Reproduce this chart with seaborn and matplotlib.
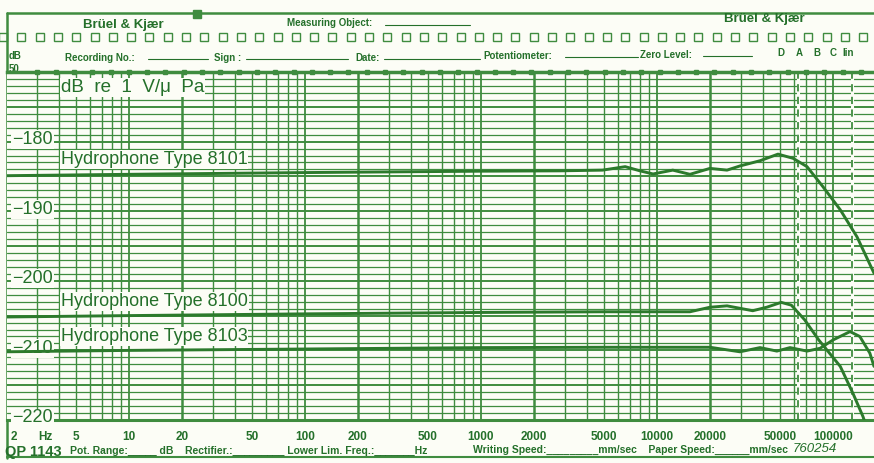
import numpy as np
import pandas as pd
import seaborn as sns
import matplotlib.pyplot as plt
from matplotlib.transforms import blended_transform_factory

# values: frequency (Hz) and sensitivity (dB re 1 V/uPa)
freq_8101 = [2, 10, 100, 1000, 2800, 4900, 6600, 8000, 9500, 12300, 15400, 20000,
             25000, 29600, 38500, 48700, 59300, 71200, 87800, 110000, 137000, 171000]
level_8101 = [-184.9, -184.7, -184.45, -184.25, -184.2, -184.1, -183.6, -184.2, -184.65, -184.1, -184.7, -183.85,
              -184.1, -183.5, -182.75, -181.8, -182.4, -183.6, -186.5, -189.8, -193.7, -198.9]

freq_8100 = [2, 10, 100, 1000, 5000, 15400, 20000, 25000, 35000, 42000, 50800, 58000,
             69000, 83000, 110000, 130000, 148000, 160000]
level_8100 = [-205.2, -205.0, -204.75, -204.55, -204.45, -204.45, -203.8, -203.6, -204.3, -203.8, -203.1, -203.5,
              -205.6, -208.5, -212.3, -216.2, -219.5, -222.0]

freq_8103 = [2, 10, 100, 1000, 5000, 20000, 29600, 38500, 48000, 57000, 71200, 84400,
             100000, 125000, 142000, 162000, 171000]
level_8103 = [-210.2, -210.0, -209.8, -209.6, -209.55, -209.55, -210.2, -209.6, -210.1, -209.6, -210.1, -209.7,
              -208.5, -207.3, -208.0, -210.4, -212.3]

curve_names = ['8101', '8100', '8103']
tick_freqs = [5, 10, 20, 50, 100, 200, 500, 1000, 2000, 5000, 10000, 20000, 50000, 100000]
y_ticks = [-180, -190, -200, -210, -220]

df = pd.concat([
    pd.DataFrame({'freq': freq_8101, 'level': level_8101, 'type': '8101'}),
    pd.DataFrame({'freq': freq_8100, 'level': level_8100, 'type': '8100'}),
    pd.DataFrame({'freq': freq_8103, 'level': level_8103, 'type': '8103'}),
])

bg = '#fcfdf6'
grid = '#3f8c3f'
ink = '#24702a'
curve = '#2c7a2c'

sns.set_style('white')
plt.rcParams['font.family'] = ['Liberation Sans', 'DejaVu Sans']

W, H = 874, 463
fig = plt.figure(figsize=(W / 100, H / 100), dpi=100, facecolor=bg)

# paper overlay in pixel coordinates for the printed form
paper = fig.add_axes([0, 0, 1, 1], zorder=0)
paper.set_xlim(0, W)
paper.set_ylim(H, 0)
paper.axis('off')

ax = fig.add_axes([7 / W, (H - 420) / H, (W - 7) / W, 348 / H], zorder=1)
ax.set_facecolor(bg)
ax.set_xscale('log')
ax.set_xlim(2.03, 171000)
ax.set_ylim(-220, -170)

# chart grid
for dec in [1, 10, 100, 1000, 10000, 100000]:
    for m in range(1, 10):
        f = m * dec
        if 2 < f < 171000:
            lw = 1.8 if m == 2 else (1.3 if m == 1 else 1.0)
            ax.axvline(f, color=grid, lw=lw, zorder=1)
for db in range(-219, -170):
    lw = 1.4 if db % 5 == 0 else 0.9
    ax.axhline(db, color=grid, lw=lw, zorder=1)

# weighting markers (A and lin)
for f in [63200, 128000]:
    ax.axvline(f, color=bg, lw=2.2, zorder=1.5)
    ax.axvline(f, color=grid, lw=1.3, dashes=(4, 3), zorder=1.6)

sns.lineplot(data=df, x='freq', y='level', hue='type', palette=[curve] * 3,
             legend=False, ax=ax, linewidth=2.1, zorder=6, sort=False)

for s in ['left', 'right']:
    ax.spines[s].set_visible(False)
ax.spines['top'].set_color(grid)
ax.spines['top'].set_linewidth(2.5)
ax.spines['bottom'].set_color(grid)
ax.spines['bottom'].set_linewidth(2.2)

# timing marks on the top edge
mark_x = np.arange(0.035, 1.0, 18.3 / 867)
ax.plot(mark_x, np.ones(len(mark_x)), 's', ms=3.2, color=grid,
        transform=ax.transAxes, clip_on=False, zorder=4)

ax.set_xticks(tick_freqs)
ax.set_xticklabels([str(t) for t in tick_freqs], fontsize=8.5, fontweight='bold', color=ink)
ax.xaxis.set_minor_locator(plt.NullLocator())
ax.tick_params(axis='x', length=0, pad=8)
ax.set_yticks([])
ax.set_xlabel('')
ax.set_ylabel('')

tr = blended_transform_factory(ax.transAxes, ax.transData)
box = dict(facecolor=bg, edgecolor='none', pad=0.6)
for v in y_ticks:
    ax.text(0.006, v + 0.3, '\u2212' + str(-v), transform=tr, fontsize=13, color=ink,
            ha='left', va='center', bbox=box, zorder=5)

ax.text(0.062, -172.2, 'dB  re  1  V/\u03bc  Pa', transform=tr, fontsize=13.5, color=ink,
        ha='left', va='center', bbox=box, zorder=5)
label_y = {'8101': -182.6, '8100': -203.0, '8103': -208.0}
for name in curve_names:
    ax.text(0.062, label_y[name], 'Hydrophone Type ' + name, transform=tr, fontsize=13,
            color=ink, ha='left', va='center', bbox=box, zorder=5)

# printed form around the chart
paper.plot([7, W], [13, 13], color=grid, lw=1.8)
paper.plot([7, 7], [13, 458], color=grid, lw=1.8)
paper.plot([7, W], [457, 457], color=grid, lw=1.5)
paper.plot([197], [14], 's', ms=6, color=grid)
hole_x = np.arange(3, W, 18.3)
paper.plot(hole_x, np.full(len(hole_x), 37), 's', ms=6, mfc='none', mec=grid, mew=1.0)

hdr = dict(color=ink, fontweight='bold', va='center')
paper.text(83, 25, 'Br\u00fcel & Kj\u00e6r', fontsize=9.5, **hdr)
paper.text(724, 19, 'Br\u00fcel & Kj\u00e6r', fontsize=9.5, **hdr)
paper.text(287, 23, 'Measuring Object:', fontsize=7, **hdr)
paper.plot([385, 470], [25, 25], color=ink, lw=0.8)

paper.text(9, 56, 'dB', fontsize=7, **hdr)
paper.text(9, 69, '50', fontsize=7, **hdr)
paper.text(65, 58, 'Recording No.:', fontsize=7, **hdr)
paper.plot([148, 208], [59, 59], color=ink, lw=0.8)
paper.text(214, 58, 'Sign :', fontsize=7, **hdr)
paper.plot([246, 348], [59, 59], color=ink, lw=0.8)
paper.text(355, 58, 'Date:', fontsize=7, **hdr)
paper.plot([384, 480], [59, 59], color=ink, lw=0.8)
paper.text(483, 56, 'Potentiometer:', fontsize=7, **hdr)
paper.plot([565, 638], [57, 57], color=ink, lw=0.8)
paper.text(640, 55, 'Zero Level:', fontsize=7, **hdr)
paper.plot([703, 752], [56, 56], color=ink, lw=0.8)
for lab, x in [('D', 777), ('A', 796), ('B', 813), ('C', 830), ('lin', 842)]:
    paper.text(x, 53, lab, fontsize=7, **hdr)

paper.text(11, 437, '2', fontsize=8.5, **hdr)
paper.text(38, 437, 'Hz', fontsize=8.5, **hdr)
paper.text(5, 452, 'QP 1143', fontsize=10.5, **hdr)
paper.text(70, 451, 'Pot. Range:_____ dB    Rectifier.:_________ Lower Lim. Freq.:_______Hz',
           fontsize=7.5, **hdr)
paper.text(473, 450, 'Writing Speed:_________mm/sec    Paper Speed:______mm/sec',
           fontsize=7.5, **hdr)
paper.text(793, 449, '760254', fontsize=9.5, color=ink, style='italic', va='center')

fig.savefig('out.png', dpi=100, facecolor=bg)
